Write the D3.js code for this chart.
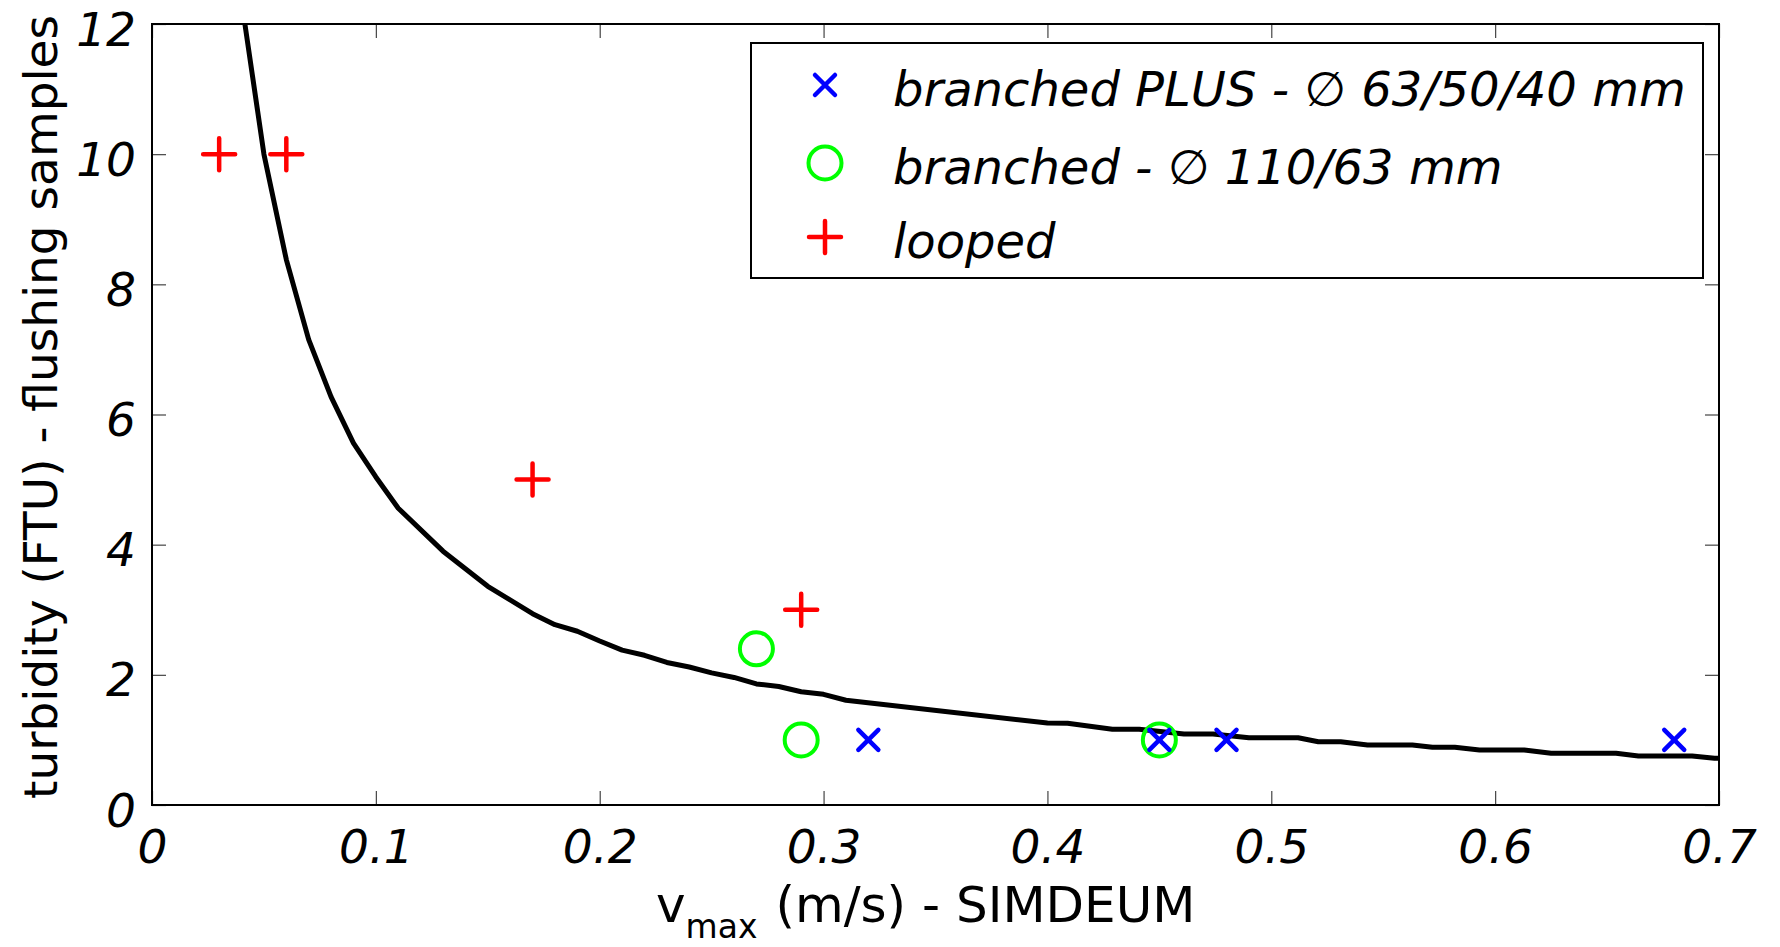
<!DOCTYPE html>
<html>
<head>
<meta charset="utf-8">
<script src="https://cdn.jsdelivr.net/npm/d3@7"></script>
<style>
    body { margin: 0; background: #fff; }
    svg text { font-family: "Comic Sans MS", "DejaVu Sans", sans-serif; fill: #000; }
    .tick text { font-style: italic; font-size: 47px; }
    .tick line { stroke: #444; stroke-width: 1.2; }
    .legend-text { font-style: italic; font-size: 48px; }
    .axis-label { font-size: 47px; }
</style>
</head>
<body>
<svg id="drawing_region"></svg>
<script>
// tick values
const xTickValues = [0, 0.1, 0.2, 0.3, 0.4, 0.5, 0.6, 0.7];
const xTickLabels = ["0", "0.1", "0.2", "0.3", "0.4", "0.5", "0.6", "0.7"];
const yTickValues = [0, 2, 4, 6, 8, 10, 12];

// measured points
const plusV = [0.32, 0.45, 0.48, 0.68];
const plusT = [1.0, 1.0, 1.0, 1.0];
const branchedV = [0.27, 0.29, 0.45];
const branchedT = [2.4, 1.0, 1.0];
const loopedV = [0.03, 0.06, 0.17, 0.29];
const loopedT = [10, 10, 5, 3];

// fitted curve
const curveV = [0.0415, 0.05, 0.06, 0.07, 0.08, 0.09, 0.10, 0.11, 0.13, 0.15, 0.17, 0.18, 0.19,
    0.20, 0.21, 0.22, 0.23, 0.24, 0.25, 0.26, 0.27, 0.28, 0.29, 0.30, 0.31, 0.40, 0.409,
    0.429, 0.441, 0.461, 0.474, 0.49, 0.512, 0.521, 0.531, 0.543, 0.563, 0.572, 0.582,
    0.593, 0.613, 0.625, 0.654, 0.664, 0.688, 0.698, 0.70];
const curveT = [12, 10.0, 8.38, 7.15, 6.27, 5.56, 5.04, 4.56, 3.90, 3.36, 2.94, 2.77, 2.67,
    2.52, 2.38, 2.30, 2.19, 2.12, 2.03, 1.96, 1.86, 1.82, 1.74, 1.70, 1.61, 1.26, 1.255,
    1.163, 1.163, 1.09, 1.09, 1.034, 1.034, 0.973, 0.973, 0.922, 0.922, 0.886, 0.886,
    0.845, 0.845, 0.794, 0.794, 0.753, 0.753, 0.717, 0.717];

const legendLabels = ["branched PLUS - \u2205 63/50/40 mm", "branched - \u2205 110/63 mm", "looped"];

const zip = (xs, ys) => xs.map((x, i) => ({ x: x, y: ys[i] }));

class TurbidityPlot {

    constructor( config ) {
        this.config = config;
        this.init();
    }

    init() {
        let self = this;
        const c = self.config;

        self.svg = d3.select( c.parent )
            .attr('width', c.width)
            .attr('height', c.height);

        self.inner_width = c.width - c.margin.left - c.margin.right;
        self.inner_height = c.height - c.margin.top - c.margin.bottom;

        self.chart = self.svg.append('g')
            .attr('transform', `translate(${c.margin.left}, ${c.margin.top})`);

        self.xscale = d3.scaleLinear().domain([0, 0.7]).range([0, self.inner_width]);
        self.yscale = d3.scaleLinear().domain([0, 12]).range([self.inner_height, 0]);
    }

    render() {
        let self = this;
        const tick = 14;

        // ticks point inward on all four sides
        self.chart.append('g')
            .attr('transform', `translate(0, ${self.inner_height})`)
            .call( d3.axisBottom(self.xscale).tickValues(xTickValues)
                .tickFormat((d, i) => xTickLabels[i]).tickSize(-tick).tickPadding(25) )
            .call( g => g.select('.domain').remove() );

        self.chart.append('g')
            .call( d3.axisTop(self.xscale).tickValues(xTickValues).tickFormat('').tickSize(-tick) )
            .call( g => g.select('.domain').remove() );

        self.chart.append('g')
            .call( d3.axisLeft(self.yscale).tickValues(yTickValues).tickSize(-tick).tickPadding(16) )
            .call( g => g.select('.domain').remove() )
            .selectAll('text').attr('dy', '0.45em');

        self.chart.append('g')
            .attr('transform', `translate(${self.inner_width}, 0)`)
            .call( d3.axisRight(self.yscale).tickValues(yTickValues).tickFormat('').tickSize(-tick) )
            .call( g => g.select('.domain').remove() );

        self.chart.append('rect')
            .attr('width', self.inner_width)
            .attr('height', self.inner_height)
            .attr('fill', 'none')
            .attr('stroke', '#000')
            .attr('stroke-width', 2);

        // curve
        const line = d3.line()
            .x( d => self.xscale(d.x) )
            .y( d => self.yscale(d.y) );

        self.chart.append('path')
            .datum( zip(curveV, curveT) )
            .attr('d', line)
            .attr('fill', 'none')
            .attr('stroke', '#000')
            .attr('stroke-width', 5)
            .attr('stroke-linejoin', 'round');

        // markers
        self.drawMarks( self.chart, zip(branchedV, branchedT), 'ring', self.circleShape );
        self.drawMarks( self.chart, zip(plusV, plusT), 'cross', self.crossShape );
        self.drawMarks( self.chart, zip(loopedV, loopedT), 'plus', self.plusShape );

        // legend
        const legend = self.svg.append('g');
        legend.append('rect')
            .attr('x', 751).attr('y', 43)
            .attr('width', 952).attr('height', 235)
            .attr('fill', '#fff')
            .attr('stroke', '#000')
            .attr('stroke-width', 2);

        const rows = [85, 163, 237];
        const shapes = [self.crossShape, self.circleShape, self.plusShape];
        shapes.forEach( (shape, i) => {
            legend.append('g')
                .attr('transform', `translate(825, ${rows[i]})`)
                .call( g => shape(g) );
        });

        legend.selectAll('.legend-text')
            .data(legendLabels)
            .enter()
            .append('text')
            .attr('class', 'legend-text')
            .attr('x', 893)
            .attr('y', (d, i) => rows[i] + 21)
            .text( d => d );

        // axis labels
        self.svg.append('text')
            .attr('class', 'axis-label')
            .attr('text-anchor', 'middle')
            .attr('transform', 'translate(57, 407) rotate(-90)')
            .text('turbidity (FTU) - flushing samples');

        const xl = self.svg.append('text')
            .attr('class', 'axis-label')
            .attr('x', 656)
            .attr('y', 922)
            .style('font-size', '50px');
        xl.append('tspan').text('v');
        xl.append('tspan').attr('dy', 16).style('font-size', '33px').text('max');
        xl.append('tspan').attr('dy', -16).attr('dx', 18).text('(m/s) - SIMDEUM');
    }

    crossShape( g ) {
        const a = 10;
        g.append('path')
            .attr('d', `M${-a},${-a}L${a},${a}M${-a},${a}L${a},${-a}`)
            .attr('stroke', '#0000ff').attr('stroke-width', 4.5).attr('stroke-linecap', 'round');
    }

    circleShape( g ) {
        g.append('circle')
            .attr('r', 16.5)
            .attr('fill', 'none')
            .attr('stroke', '#00ff00').attr('stroke-width', 4);
    }

    plusShape( g ) {
        const a = 16;
        g.append('path')
            .attr('d', `M${-a},0L${a},0M0,${-a}L0,${a}`)
            .attr('stroke', '#ff0000').attr('stroke-width', 4.5).attr('stroke-linecap', 'round');
    }

    drawMarks( parent, data, cls, shape ) {
        let self = this;
        parent.selectAll('.' + cls).data(data).enter().append('g')
            .attr('class', cls)
            .attr('transform', d => `translate(${self.xscale(d.x)}, ${self.yscale(d.y)})`)
            .each( function() { shape(d3.select(this)); } );
    }
}

const config = {
    parent: '#drawing_region',
    width: 1780,
    height: 947,
    margin: {top: 24, right: 61, bottom: 142, left: 152}
};

const plot = new TurbidityPlot( config );
plot.render();
</script>
</body>
</html>
